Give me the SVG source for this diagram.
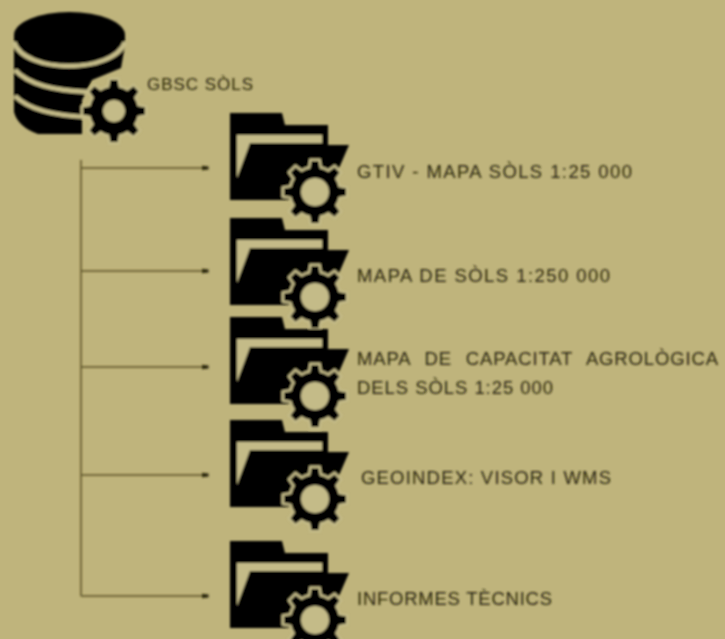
<svg xmlns="http://www.w3.org/2000/svg" xmlns:xlink="http://www.w3.org/1999/xlink" width="725" height="639" viewBox="0 0 725 639">
<style>
.t{font-family:"Liberation Sans",Arial,sans-serif;font-size:18.5px;fill:#2a260e}
.c{fill:none;stroke:#5c5228;stroke-width:1.5}
.b{fill:#060503}
.bg{fill:#c4bb88}
.hs{stroke:#c4bb88;fill:#c4bb88;stroke-width:5}
.band{fill:none;stroke:#c4bb88;stroke-width:4.5}
</style>
<defs>
<filter id="soft" x="-5%" y="-5%" width="110%" height="110%"><feGaussianBlur stdDeviation="0.9"/></filter>
<marker id="a" markerUnits="userSpaceOnUse" markerWidth="8" markerHeight="8" refX="6" refY="4" orient="auto"><path d="M0,2.400 L6,3 V5 L0,5.600 Z" fill="#2e2a10" stroke="#2e2a10" stroke-width="1.200"/></marker>
<g id="teeth"><path id="t1" d="M-5,-22 L-3.500,-31 H3.500 L5,-22 Z"/><use xlink:href="#t1" transform="rotate(45)"/><use xlink:href="#t1" transform="rotate(90)"/><use xlink:href="#t1" transform="rotate(135)"/><use xlink:href="#t1" transform="rotate(180)"/><use xlink:href="#t1" transform="rotate(225)"/><use xlink:href="#t1" transform="rotate(270)"/><use xlink:href="#t1" transform="rotate(315)"/><circle r="24"/></g>
<g id="gear"><use xlink:href="#teeth" class="hs"/><use xlink:href="#teeth" class="b"/><circle r="14" class="bg"/></g>
<g id="folder">
<path class="b" d="M0,0 H52 L55,12 H98 V32 H119 L106,62 L70,87 H0 Z"/>
<path class="bg" d="M7,22 H92 V30 H20 L7,65 Z"/>
<use xlink:href="#gear" transform="translate(85,79)"/>
</g>
</defs>
<rect width="725" height="639" fill="#bfb47c"/>
<g filter="url(#soft)">
<g id="connectors">
<path class="c" d="M81,160 V596"/>
<path class="c" marker-end="url(#a)" d="M81,168 H208"/>
<path class="c" marker-end="url(#a)" d="M81,271 H208"/>
<path class="c" marker-end="url(#a)" d="M81,367 H208"/>
<path class="c" marker-end="url(#a)" d="M81,475 H208"/>
<path class="c" marker-end="url(#a)" d="M81,596 H208"/>
</g>
<g id="gbsc">
<path class="b" d="M14,35 V112 Q18,127 38,134 H82 V100 L92,80 L121,68 L125,45 V35 Z"/>
<ellipse class="b" cx="69.500" cy="35" rx="55.500" ry="23"/>
<path class="band" d="M14,42 C24,74 114,74 125,42"/>
<path class="band" d="M15,70 C28,84 55,91 90,92"/>
<path class="band" d="M15,96 C28,109 55,116 90,117"/>
<g transform="translate(114,111)"><use xlink:href="#teeth" class="hs"/><use xlink:href="#teeth" class="b"/><circle r="11" class="bg"/></g>
<text class="t" x="147" y="90" textLength="106" style="font-size:17px">GBSC SÒLS</text>
</g>
<g id="n1"><use xlink:href="#folder" x="230" y="113"/><text class="t" x="357" y="178" textLength="275">GTIV - MAPA SÒLS 1:25 000</text></g>
<g id="n2"><use xlink:href="#folder" x="230" y="218"/><text class="t" x="357" y="282" textLength="253">MAPA DE SÒLS 1:250 000</text></g>
<g id="n3"><use xlink:href="#folder" x="230" y="317"/><text class="t" x="357" y="365" textLength="361" style="word-spacing:8px">MAPA DE CAPACITAT AGROLÒGICA</text><text class="t" x="357" y="394" textLength="196">DELS SÒLS 1:25 000</text></g>
<g id="n4"><use xlink:href="#folder" x="230" y="420"/><text class="t" x="361" y="484" textLength="250">GEOINDEX: VISOR I WMS</text></g>
<g id="n5"><use xlink:href="#folder" x="230" y="541"/><text class="t" x="357" y="605" textLength="195">INFORMES TÈCNICS</text></g>
</g>
</svg>
